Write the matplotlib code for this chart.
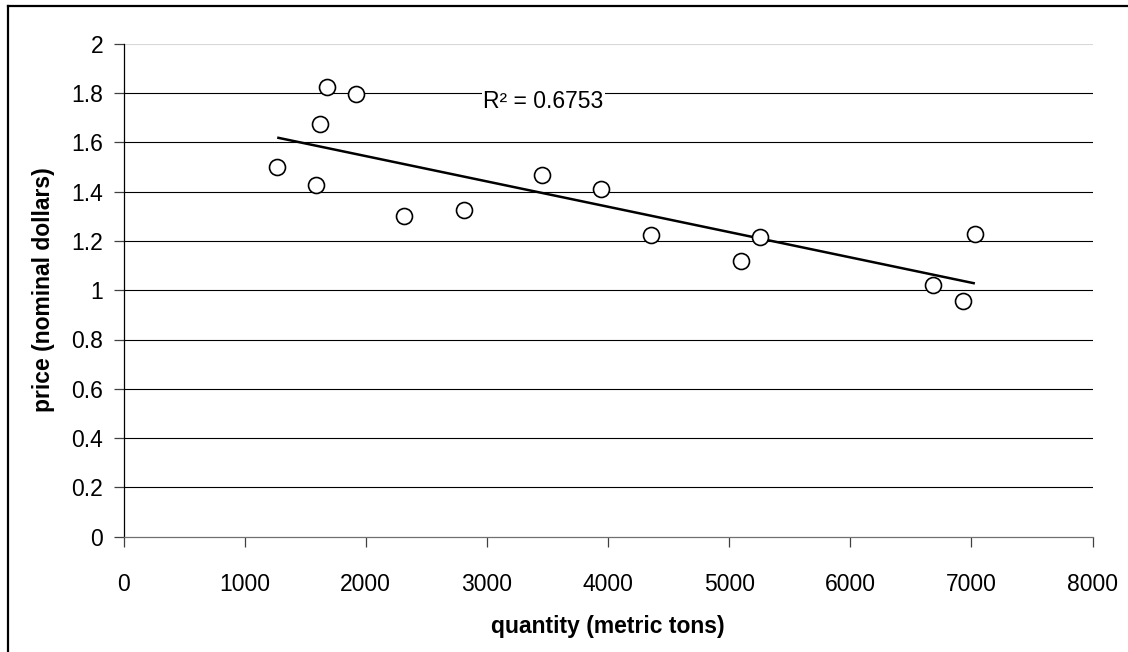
import numpy as np
import matplotlib
matplotlib.use("Agg")
import matplotlib.pyplot as plt
from matplotlib.lines import Line2D

plt.rcParams['font.family'] = ['Liberation Sans', 'DejaVu Sans']

quantity = [1269, 1588, 1624, 1682, 1916, 2317, 2813, 3459, 3944, 4356, 5100, 5251, 6687, 6927, 7029]
price = [1.501, 1.426, 1.674, 1.826, 1.796, 1.302, 1.327, 1.466, 1.409, 1.224, 1.120, 1.217, 1.020, 0.957, 1.229]
x_ticks = [0, 1000, 2000, 3000, 4000, 5000, 6000, 7000, 8000]
y_ticks = [0, 0.2, 0.4, 0.6, 0.8, 1, 1.2, 1.4, 1.6, 1.8, 2]
y_tick_labels = ['0', '0.2', '0.4', '0.6', '0.8', '1', '1.2', '1.4', '1.6', '1.8', '2']
r2_label = "R\u00b2 = 0.6753"

W, H = 1128, 652
fig = plt.figure(figsize=(W / 100, H / 100), dpi=100)
L, R, T, B = 123.5, 1092.5, 43.7, 536.7
ax = fig.add_axes([L / W, 1 - B / H, (R - L) / W, (B - T) / H])

ax.set_xlim(0, 8000)
ax.set_ylim(0, 2)

for yv in y_ticks[1:]:
    ax.axhline(yv, color='#d8d8d8' if yv == 2 else 'black', lw=0.8, zorder=1)

xs = np.array(quantity, dtype=float)
ys = np.array(price, dtype=float)
m, c = np.polyfit(xs, ys, 1)
xx = np.array([xs.min(), xs.max()])
ax.plot(xx, m * xx + c, color='black', lw=1.8, zorder=3, solid_capstyle='butt')

ax.plot(xs, ys, linestyle='none', marker='o', ms=11.5, mfc='white', mec='black', mew=1.2, zorder=4)

ax.text((483 - L) / (R - L), (B - 102) / (B - T), r2_label, transform=ax.transAxes,
        ha='left', va='center', fontsize=16.5,
        bbox=dict(facecolor='white', edgecolor='none', pad=1), zorder=5)

ax.set_xticks(x_ticks)
ax.set_xticklabels([str(v) for v in x_ticks])
ax.set_yticks(y_ticks)
ax.set_yticklabels(y_tick_labels)
ax.tick_params(axis='both', direction='out', length=7, width=0.9, labelsize=16.5, color='#404040')
ax.tick_params(axis='x', pad=19)
ax.tick_params(axis='y', pad=7.5)

for s in ['top', 'right']:
    ax.spines[s].set_visible(False)
ax.spines['left'].set_color('black')
ax.spines['left'].set_linewidth(0.9)
ax.spines['bottom'].set_color('#707070')
ax.spines['bottom'].set_linewidth(0.9)

ax.set_xlabel('quantity (metric tons)', fontsize=16.5, fontweight='bold', labelpad=14)
fig.text(44 / W, 1 - 290 / H, 'price (nominal dollars)', rotation=90, ha='center', va='center',
         fontsize=16.5, fontweight='bold')

# outer chart border (top and left edges visible)
fig.add_artist(Line2D([8 / W, 1.01], [1 - 6 / H, 1 - 6 / H], transform=fig.transFigure, color='black', lw=1.6))
fig.add_artist(Line2D([8 / W, 8 / W], [1 - 6 / H, -0.01], transform=fig.transFigure, color='black', lw=1.6))

fig.savefig('out.png', dpi=100, facecolor='white')
